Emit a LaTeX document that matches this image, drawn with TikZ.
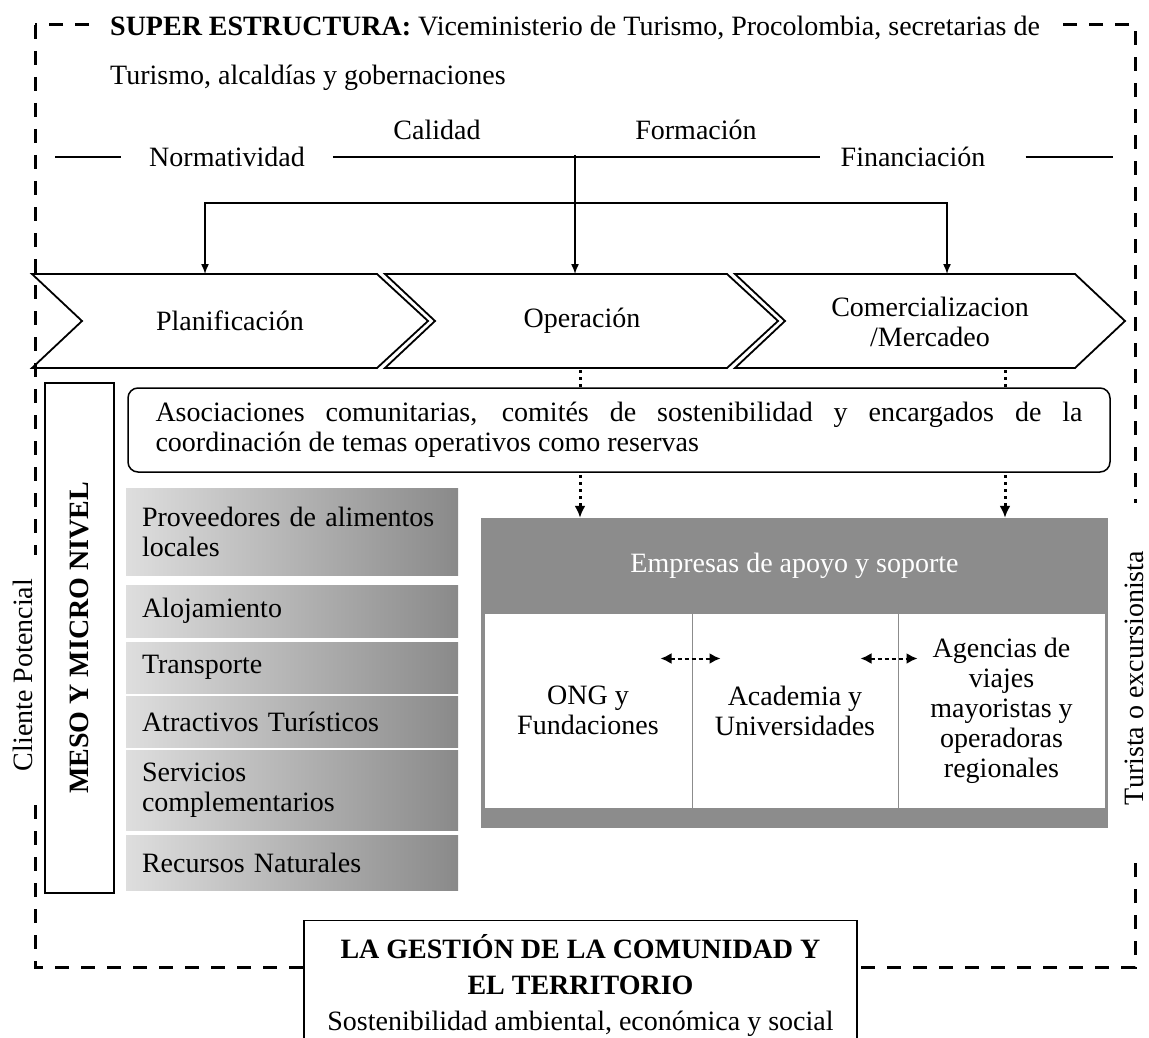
\documentclass[tikz,border=0pt]{standalone}
\usepackage{fontspec}
\setmainfont{Liberation Serif}
\usetikzlibrary{arrows.meta}

\tikzset{
  txt/.style = {font = \fontsize{28}{30}\selectfont},
  frame/.style = {line width = 3pt, dash pattern = on 14pt off 12pt},
  chev/.style = {draw = black, line width = 1.8pt},
  flow/.style = {line width = 1.5pt},
  down/.style = {line width = 1.5pt, -{Latex[length = 10pt, width = 8pt]}},
  dotarrow/.style = {line width = 3pt, dash pattern = on 3pt off 4pt,
      -{Latex[length = 12pt, width = 11pt]}},
  twoway/.style = {line width = 2pt, dash pattern = on 4pt off 3pt,
      {Latex[length = 11pt, width = 11pt]}-{Latex[length = 11pt, width = 11pt]}},
  actor/.style = {rectangle, txt,
      left color = black!13,
      middle color = black!22,
      right color = black!46,
      text width = 300pt,
      inner xsep = 16pt,
      align = left},
  cell/.style = {rectangle, txt,
      draw = black!45,
      fill = white,
      line width = 1pt,
      minimum height = 195pt,
      align = center},
}

\begin{document}
\begin{tikzpicture}[x = 1pt, y = -1pt]
\useasboundingbox (0,0) rectangle (1149,1038);
\clip (0,0) rectangle (1149,1038);

% outer frame
\draw[frame] (35,25) rectangle (1135,967);

% super estructura
\node[txt, fill = white, anchor = west, inner xsep = 14pt] (super) at (96,28)
  {\textbf{SUPER ESTRUCTURA:} Viceministerio de Turismo, Procolombia, secretarias de};
\node[txt, anchor = west, inner sep = 0pt] (super2) at (110,78)
  {Turismo, alcaldías y gobernaciones};

\node[txt, inner xsep = 28pt] (norm) at (227,157) {Normatividad};
\node[txt] (cal) at (437,130) {Calidad};
\node[txt] (form) at (696,130) {Formación};
\node[txt, inner xsep = 20pt] (finan) at (913,157) {Financiación};

\coordinate (lineL) at (55,157);
\coordinate (lineR) at (1113,157);
\coordinate (hub) at (575,155);
\coordinate (split) at (575,203);
\coordinate (p1) at (205,274);
\coordinate (p2) at (575,274);
\coordinate (p3) at (947,274);

\draw[flow] (lineL) -- (norm.west);
\draw[flow] (norm.east) -- (finan.west);
\draw[flow, shorten <= 20pt] (finan.east) -- (lineR);
\draw[flow] (hub) -- (split);
\draw[down] (split) -| (p1);
\draw[down] (split) -- (p2);
\draw[down] (split) -| (p3);

% value chain
\draw[chev] (32,274) -- (377,274) -- (428,321) -- (377,368) -- (32,368) -- (82,321) -- cycle;
\draw[chev] (385,274) -- (727,274) -- (778,321) -- (727,368) -- (385,368) -- (435,321) -- cycle;
\draw[chev] (735,274) -- (1075,274) -- (1125,321) -- (1075,368) -- (735,368) -- (785,321) -- cycle;

\node[txt] (plan) at (230,321) {Planificación};
\node[txt] (oper) at (582,321) {Operación};
\node[txt, align = center] (merc) at (930,322) {Comercializacion\\/Mercadeo};

% meso y micro nivel
\node[txt, fill = white, rotate = 90, minimum width = 240pt, minimum height = 40pt] (cliente) at (23,675) {Cliente Potencial};
\node[txt, fill = white, rotate = 90, minimum width = 350pt] (turista) at (1134,678) {Turista o excursionista};

\node[rectangle,
    txt,
    draw = black,
    line width = 1.2pt,
    rotate = 90,
    minimum width = 510pt,
    minimum height = 69pt] (meso) at (79.5,638) {\textbf{MESO Y MICRO NIVEL}};

\node[actor, minimum height = 87pt] (prov) at (292,531.5) {Proveedores de alimentos\\locales};
\node[actor, minimum height = 52pt] (aloj) at (292,611) {Alojamiento};
\node[actor, minimum height = 51pt] (trans) at (292,667.5) {Transporte};
\node[actor, minimum height = 51pt] (atrac) at (292,721.5) {Atractivos Turísticos};
\node[actor, minimum height = 80pt] (serv) at (292,790) {Servicios\\complementarios};
\node[actor, minimum height = 55pt] (recur) at (292,862.5) {Recursos Naturales};

% empresas de apoyo
\fill[black!45] (481,518) rectangle (1108,828);
\node[rectangle,
    txt,
    text = white,
    minimum width = 627pt,
    minimum height = 95pt] (emp) at (794.5,565.5) {Empresas de apoyo y soporte};

\node[cell, minimum width = 208pt] (ong) at (588,710.5) {ONG y\\Fundaciones};
\node[cell, minimum width = 206pt] (acad) at (795,710.5) {Academia y\\Universidades};
\node[cell, minimum width = 207pt] (agen) at (1001.5,710.5)
  {Agencias de\\viajes\\mayoristas y\\operadoras\\regionales};

\draw[twoway] ([shift = {(-32pt,52pt)}]ong.east) -- ([shift = {(29pt,52pt)}]acad.west);
\draw[twoway] ([shift = {(-38pt,52pt)}]acad.east) -- ([shift = {(20pt,52pt)}]agen.west);

\coordinate (opB) at (580,370);
\coordinate (mkB) at (1005,370);
\draw[dotarrow] (opB) -- (opB |- emp.north);
\draw[dotarrow] (mkB) -- (mkB |- emp.north);

% asociaciones
\node[rectangle,
    txt,
    draw = black,
    fill = white,
    line width = 1.5pt,
    rounded corners = 10pt,
    minimum width = 982pt,
    minimum height = 84pt,
    text width = 927pt,
    align = justify] (asoc) at (619,430)
  {Asociaciones comunitarias, comités de sostenibilidad y encargados de la\linebreak
   coordinación de temas operativos como reservas};

% gestion
\node[rectangle,
    draw = black,
    fill = white,
    line width = 1.2pt,
    font = \fontsize{28}{36}\selectfont,
    align = center,
    anchor = north,
    minimum width = 553pt,
    minimum height = 130pt] (gest) at (580.5,920)
  {\textbf{LA GESTIÓN DE LA COMUNIDAD Y}\\\textbf{EL TERRITORIO}\\Sostenibilidad ambiental, económica y social};

\end{tikzpicture}
\end{document}
